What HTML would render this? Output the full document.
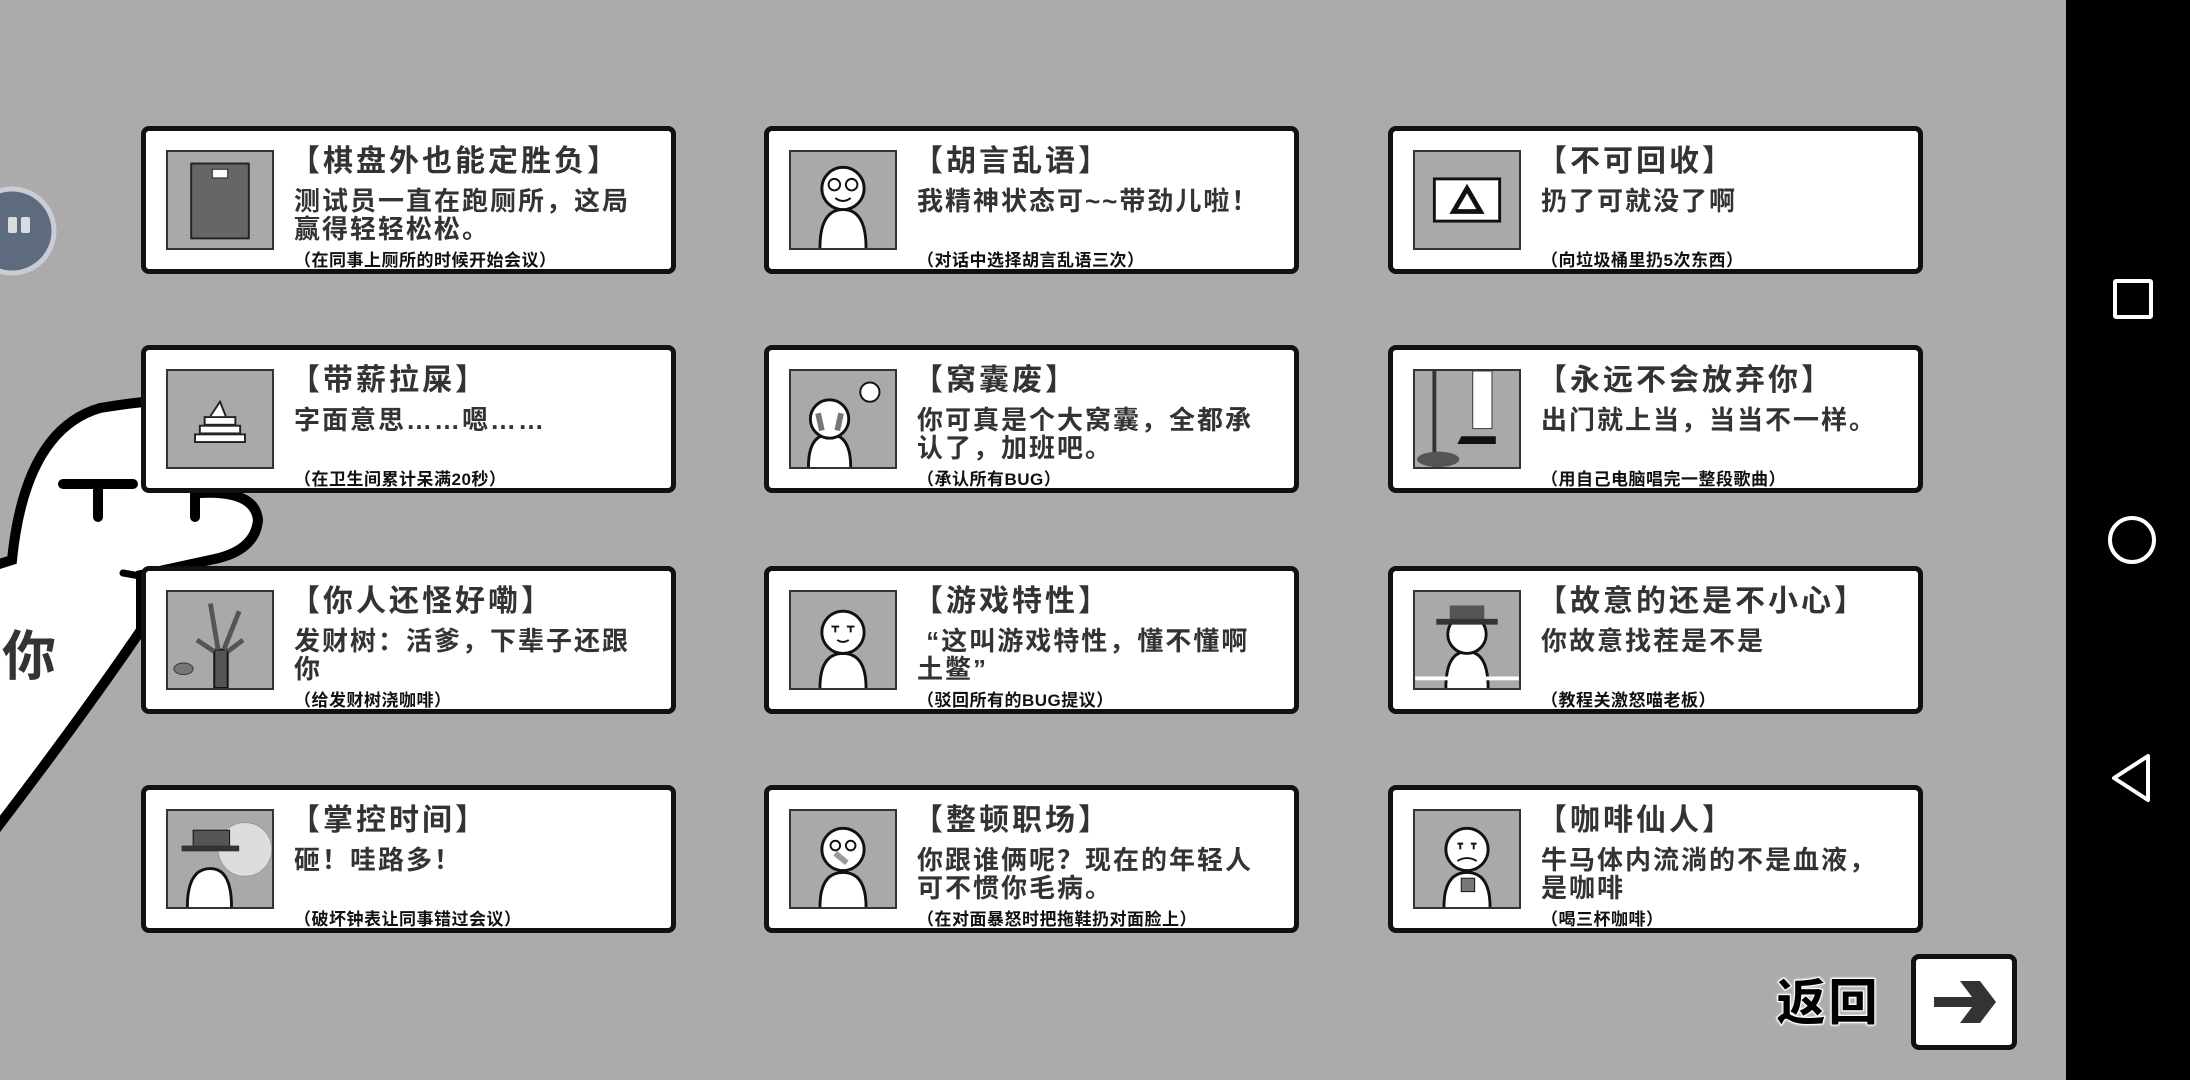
<!DOCTYPE html>
<html><head><meta charset="utf-8"><style>
*{margin:0;padding:0;box-sizing:border-box}
body{width:2190px;height:1080px;background:#ababab;position:relative;overflow:hidden;font-family:"Liberation Sans","Noto Sans CJK SC","WenQuanYi Zen Hei",sans-serif;color:#333}
.card{position:absolute;width:535px;height:148px;background:#fff;border:5px solid #111;border-radius:8px}
.ic{position:absolute;left:20px;top:19px;width:108px;height:100px;background:#a9a9a9;border:2px solid #333;overflow:hidden}
.ic svg{width:100%;height:100%}
.t{position:absolute;left:144px;top:5px;font-size:30px;font-weight:bold;white-space:nowrap;letter-spacing:3px}
.b{position:absolute;left:148px;top:56px;white-space:nowrap;font-size:26px;font-weight:bold;line-height:28px;letter-spacing:2px}
.n{position:absolute;left:148px;top:115px;font-size:17px;font-weight:bold;color:#111;white-space:nowrap;letter-spacing:0.5px}
.nav{position:absolute;left:2066px;top:0;width:124px;height:1080px;background:#000}
</style></head><body>
<svg style="position:absolute;left:0;top:0" width="400" height="1080">
<path d="M -20 570 L 12 560 Q 25 430 100 408 Q 160 398 200 400 L 200 493 Q 255 490 258 520 Q 255 552 210 560 L 141 575 L 141 630 Q 80 720 -20 850 Z" fill="#fff" stroke="#000" stroke-width="10"/>
<path d="M 63 484 H 133 M 98 484 V 517" stroke="#000" stroke-width="10" stroke-linecap="round"/>
<path d="M 195 490 V 517" stroke="#000" stroke-width="10" stroke-linecap="round"/>
<path d="M 123 573 L 140 576" stroke="#000" stroke-width="7" stroke-linecap="round"/>
<text x="2" y="675" font-size="54" font-weight="bold" fill="#333" font-family="Liberation Sans,Noto Sans CJK SC,sans-serif">你</text>
<circle cx="12" cy="231" r="42" fill="#5e6b7f" stroke="#c9ccd2" stroke-width="5"/>
<rect x="8" y="217" width="9" height="16" rx="2" fill="#d9dde3"/>
<rect x="21" y="217" width="9" height="16" rx="2" fill="#d9dde3"/>
</svg>

<div class="card" style="left:141px;top:126px"><div class="ic"><svg viewBox="0 0 108 100"><rect x="24" y="12" width="60" height="78" fill="#666" stroke="#222" stroke-width="2"/><rect x="46" y="18" width="16" height="9" fill="#fff" stroke="#222"/></svg></div><div class="t">【棋盘外也能定胜负】</div><div class="b">测试员一直在跑厕所，这局<br>赢得轻轻松松。</div><div class="n">（在同事上厕所的时候开始会议）</div></div>
<div class="card" style="left:764px;top:126px"><div class="ic"><svg viewBox="0 0 108 100"><path d="M30 100 Q30 60 54 60 Q78 60 78 100" fill="#fff" stroke="#111" stroke-width="3"/><circle cx="54" cy="38" r="22" fill="#fff" stroke="#111" stroke-width="3"/><circle cx="45" cy="34" r="6" fill="none" stroke="#111" stroke-width="2"/><circle cx="63" cy="34" r="6" fill="none" stroke="#111" stroke-width="2"/><path d="M46 48 Q54 54 62 48" stroke="#111" stroke-width="2" fill="none"/></svg></div><div class="t">【胡言乱语】</div><div class="b">我精神状态可~~带劲儿啦！</div><div class="n">（对话中选择胡言乱语三次）</div></div>
<div class="card" style="left:1388px;top:126px"><div class="ic"><svg viewBox="0 0 108 100"><rect x="20" y="28" width="68" height="44" fill="#fff" stroke="#111" stroke-width="3"/><path d="M54 38 L68 62 H40 Z" fill="none" stroke="#111" stroke-width="5"/></svg></div><div class="t">【不可回收】</div><div class="b">扔了可就没了啊</div><div class="n">（向垃圾桶里扔5次东西）</div></div>

<div class="card" style="left:141px;top:345px"><div class="ic"><svg viewBox="0 0 108 100"><rect x="28" y="66" width="52" height="8" fill="#fff" stroke="#222" stroke-width="2"/><rect x="33" y="57" width="42" height="8" fill="#fff" stroke="#222" stroke-width="2"/><rect x="38" y="48" width="32" height="8" fill="#fff" stroke="#222" stroke-width="2"/><path d="M44 47 L54 32 L60 47" fill="#fff" stroke="#222" stroke-width="2"/></svg></div><div class="t">【带薪拉屎】</div><div class="b">字面意思……嗯……</div><div class="n">（在卫生间累计呆满20秒）</div></div>
<div class="card" style="left:764px;top:345px"><div class="ic"><svg viewBox="0 0 108 100"><path d="M18 100 Q18 66 40 66 Q62 66 62 100" fill="#fff" stroke="#111" stroke-width="3"/><circle cx="40" cy="50" r="20" fill="#fff" stroke="#111" stroke-width="3"/><path d="M28 44 L32 62 M52 44 L48 62" stroke="#777" stroke-width="6"/><circle cx="82" cy="22" r="10" fill="#fff" stroke="#111" stroke-width="2"/></svg></div><div class="t">【窝囊废】</div><div class="b">你可真是个大窝囊，全都承<br>认了，加班吧。</div><div class="n">（承认所有BUG）</div></div>
<div class="card" style="left:1388px;top:345px"><div class="ic"><svg viewBox="0 0 108 100"><path d="M20 0 V100" stroke="#333" stroke-width="4"/><rect x="60" y="0" width="20" height="60" fill="#fff" stroke="#333"/><path d="M48 68 H84 V76 H44 Z" fill="#111"/><ellipse cx="24" cy="92" rx="22" ry="8" fill="#555"/></svg></div><div class="t">【永远不会放弃你】</div><div class="b">出门就上当，当当不一样。</div><div class="n">（用自己电脑唱完一整段歌曲）</div></div>

<div class="card" style="left:141px;top:566px"><div class="ic"><svg viewBox="0 0 108 100"><rect x="48" y="60" width="14" height="40" fill="#555" stroke="#111" stroke-width="2"/><path d="M52 60 L44 12 M58 60 L74 20 M48 62 L30 50 M62 62 L78 50" stroke="#555" stroke-width="5"/><ellipse cx="16" cy="80" rx="10" ry="6" fill="#777" stroke="#333"/></svg></div><div class="t">【你人还怪好嘞】</div><div class="b">发财树：活爹，下辈子还跟<br>你</div><div class="n">（给发财树浇咖啡）</div></div>
<div class="card" style="left:764px;top:566px"><div class="ic"><svg viewBox="0 0 108 100"><path d="M30 100 Q30 64 54 64 Q78 64 78 100" fill="#fff" stroke="#111" stroke-width="3"/><circle cx="54" cy="42" r="22" fill="#fff" stroke="#111" stroke-width="3"/><path d="M42 36 H50 M46 36 V42 M58 36 H66 M62 36 V42 M48 50 Q54 54 60 50" stroke="#111" stroke-width="2" fill="none"/></svg></div><div class="t">【游戏特性】</div><div class="b">&nbsp;“这叫游戏特性，懂不懂啊<br>土鳖”</div><div class="n">（驳回所有的BUG提议）</div></div>
<div class="card" style="left:1388px;top:566px"><div class="ic"><svg viewBox="0 0 108 100"><path d="M32 100 Q32 62 54 62 Q76 62 76 100" fill="#fff" stroke="#111" stroke-width="3"/><circle cx="54" cy="44" r="20" fill="#fff" stroke="#111" stroke-width="3"/><rect x="36" y="14" width="36" height="16" fill="#555"/><rect x="22" y="28" width="64" height="6" fill="#333"/><rect x="0" y="88" width="108" height="4" fill="#fff"/></svg></div><div class="t">【故意的还是不小心】</div><div class="b">你故意找茬是不是</div><div class="n">（教程关激怒喵老板）</div></div>

<div class="card" style="left:141px;top:785px"><div class="ic"><svg viewBox="0 0 108 100"><circle cx="80" cy="40" r="28" fill="#ddd" stroke="#999"/><path d="M20 100 Q20 60 44 60 Q66 60 66 100" fill="#fff" stroke="#111" stroke-width="3"/><rect x="26" y="20" width="38" height="18" fill="#555" stroke="#111"/><rect x="14" y="36" width="60" height="6" fill="#333"/></svg></div><div class="t">【掌控时间】</div><div class="b">砸！哇路多！</div><div class="n">（破坏钟表让同事错过会议）</div></div>
<div class="card" style="left:764px;top:785px"><div class="ic"><svg viewBox="0 0 108 100"><path d="M30 100 Q30 64 54 64 Q78 64 78 100" fill="#fff" stroke="#111" stroke-width="3"/><circle cx="54" cy="40" r="22" fill="#fff" stroke="#111" stroke-width="3"/><circle cx="46" cy="36" r="5" fill="none" stroke="#111" stroke-width="2"/><circle cx="62" cy="36" r="5" fill="none" stroke="#111" stroke-width="2"/><path d="M46 44 L58 54" stroke="#999" stroke-width="6"/></svg></div><div class="t">【整顿职场】</div><div class="b">你跟谁俩呢？现在的年轻人<br>可不惯你毛病。</div><div class="n">（在对面暴怒时把拖鞋扔对面脸上）</div></div>
<div class="card" style="left:1388px;top:785px"><div class="ic"><svg viewBox="0 0 108 100"><path d="M30 100 Q30 64 54 64 Q78 64 78 100" fill="#fff" stroke="#111" stroke-width="3"/><circle cx="54" cy="40" r="22" fill="#fff" stroke="#111" stroke-width="3"/><path d="M44 34 H50 M47 34 V40 M58 34 H64 M61 34 V40 M44 52 Q54 46 64 52" stroke="#111" stroke-width="2" fill="none"/><rect x="48" y="70" width="14" height="14" fill="#777" stroke="#111"/></svg></div><div class="t">【咖啡仙人】</div><div class="b">牛马体内流淌的不是血液，<br>是咖啡</div><div class="n">（喝三杯咖啡）</div></div>

<div style="position:absolute;left:1776px;top:974px;font-size:50px;font-weight:900;color:#000;-webkit-text-stroke:1px #fff;text-shadow:0 0 3px #fff,0 0 2px #fff;letter-spacing:2px;line-height:58px">返回</div>
<div style="position:absolute;left:1911px;top:954px;width:106px;height:96px;background:#fff;border:5px solid #111;border-radius:8px">
<svg width="96" height="86" viewBox="0 0 96 86"><path d="M18 38 H56 L44 22 H64 L80 43 L64 64 H44 L56 48 H18 Z" fill="#333"/></svg></div>

<div class="nav">
<div style="position:absolute;left:47px;top:279px;width:40px;height:40px;border:4px solid #fff;border-radius:3px"></div>
<div style="position:absolute;left:42px;top:516px;width:48px;height:48px;border:4px solid #fff;border-radius:50%"></div>
<svg style="position:absolute;left:42px;top:752px" width="50" height="52"><path d="M40 4 L6 26 L40 48 Z" fill="none" stroke="#fff" stroke-width="4" stroke-linejoin="round"/></svg>
</div>
</body></html>
